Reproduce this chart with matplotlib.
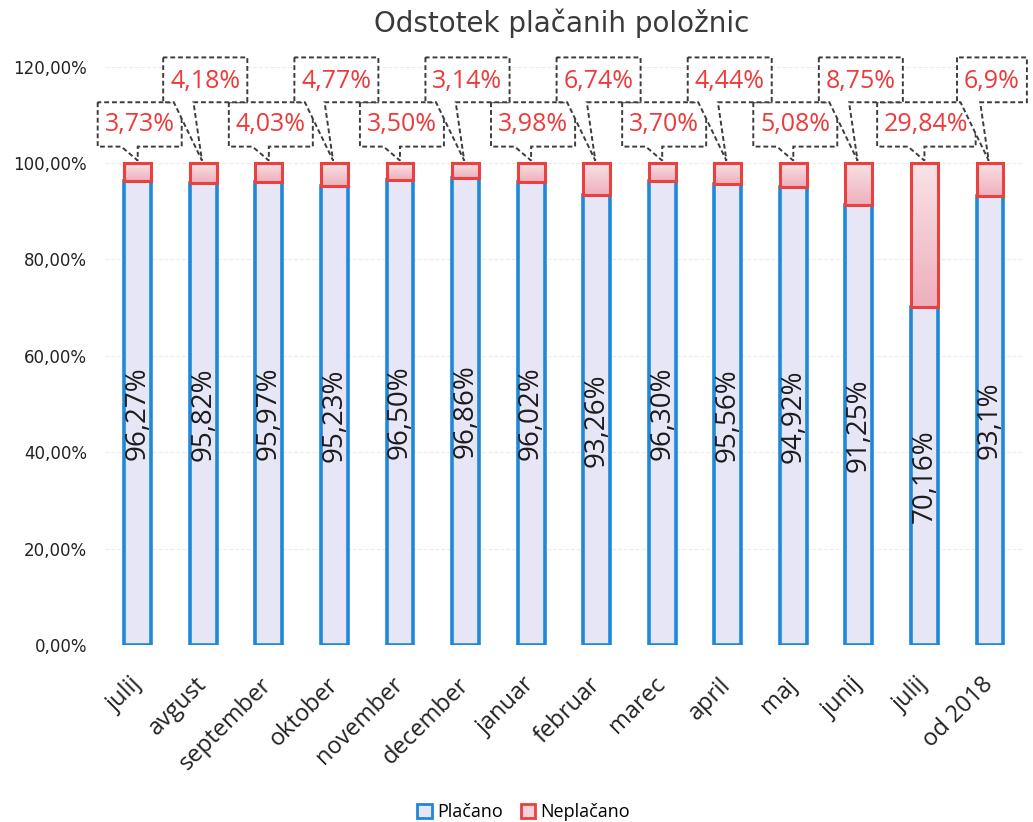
import numpy as np
import matplotlib
matplotlib.use('Agg')
import matplotlib.pyplot as plt
from matplotlib.patches import Polygon, Patch
from matplotlib.colors import LinearSegmentedColormap
from matplotlib.ticker import FuncFormatter

months = ['julij', 'avgust', 'september', 'oktober', 'november', 'december',
          'januar', 'februar', 'marec', 'april', 'maj', 'junij', 'julij', 'od 2018']
placano = [96.27, 95.82, 95.97, 95.23, 96.50, 96.86, 96.02, 93.26, 96.30,
           95.56, 94.92, 91.25, 70.16, 93.1]
neplacano = [3.73, 4.18, 4.03, 4.77, 3.50, 3.14, 3.98, 6.74, 3.70,
             4.44, 5.08, 8.75, 29.84, 6.9]
decimals = [2] * 13 + [1]


def pct(v, d):
    return f"{v:.{d}f}%".replace('.', ',')


blue_edge = '#1f88d8'
blue_fill = '#e6e6f6'
red_edge = '#e8413f'
red_fill = '#f5d3da'

fig = plt.figure(figsize=(10.33, 8.22), dpi=100)
ax = fig.add_axes([0.1016, 0.2153, 0.8885, 0.7037])

x = np.arange(len(months))
ax.bar(x, placano, width=0.41, color=blue_fill, edgecolor=blue_edge,
       linewidth=2.6, zorder=2)
red = ax.bar(x, neplacano, bottom=placano, width=0.41, color='none',
             edgecolor=red_edge, linewidth=2.2, zorder=3)

# pink gradient inside the unpaid segments
pink = LinearSegmentedColormap.from_list('pink', ['#eeb0bc', '#f9e2e6'])
grad = np.linspace(0, 1, 64).reshape(-1, 1)
for p in red:
    x0, y0 = p.get_xy()
    ax.imshow(grad, extent=[x0, x0 + p.get_width(), y0, y0 + p.get_height()],
              origin='lower', cmap=pink, aspect='auto', zorder=2.5,
              interpolation='bicubic')

ax.set_xlim(-0.5, len(months) - 0.5)
ax.set_ylim(0, 120)
ax.set_aspect('auto')

# values inside the paid bars
for i, v in enumerate(placano):
    ax.text(i, v / 2, pct(v, decimals[i]), rotation=90, ha='center',
            va='center', fontsize=20, family='Open Sans', color='#1c1c1c',
            zorder=4)

# callout labels for unpaid share
texts = []
for i, v in enumerate(neplacano):
    ty = 107.9 if i % 2 == 0 else 116.9
    t = ax.text(i + 0.03, ty, pct(v, decimals[i]), ha='center', va='center',
                fontsize=18, family='Open Sans', color='#ee3a3a', zorder=8,
                clip_on=False)
    texts.append(t)

fig.canvas.draw()
renderer = fig.canvas.get_renderer()
inv = ax.transData.inverted()
for i, t in enumerate(texts):
    bb = t.get_window_extent(renderer)
    bx0 = inv.transform((bb.x0 - 7, 0))[0]
    bx1 = inv.transform((bb.x1 + 7, 0))[0]
    if i % 2 == 0:
        yb, yt = 103.4, 112.6
        bl, br, tip = i - 0.25, i + 0.0, (i, 100.5)
        z = 5
    else:
        yb, yt = 112.6, 121.9
        bl, br, tip = i - 0.45, i - 0.15, (i - 0.02, 100.5)
        z = 6
    bl = max(bl, bx0 + 0.02)
    verts = [(bx0, yt), (bx0, yb), (bl, yb), tip, (br, yb), (bx1, yb), (bx1, yt)]
    ax.add_patch(Polygon(verts, closed=True, facecolor='white',
                         edgecolor='#3c3c3c', linewidth=1.4,
                         linestyle=(0, (2.5, 1.5)), zorder=z, clip_on=False))

# axes styling
for s in ax.spines.values():
    s.set_visible(False)
ax.set_yticks(range(0, 121, 20))
ax.yaxis.set_major_formatter(FuncFormatter(lambda v, _: f"{v:.2f}%".replace('.', ',')))
ax.tick_params(axis='y', length=0, pad=13, labelsize=12, labelcolor='#222222')
ax.yaxis.grid(True, color='#ececec', linewidth=0.8, linestyle='--')
ax.set_axisbelow(True)

ax.set_xticks(x)
ax.set_xticklabels(months, rotation=45, ha='right', va='center',
                   rotation_mode='anchor', fontsize=17, family='Open Sans',
                   color='#222222')
ax.tick_params(axis='x', length=0, pad=26)

fig.text(0.544, 0.972, 'Odstotek plačanih položnic', ha='center', va='center',
         fontsize=20, color='#3a3a3a')

handles = [Patch(facecolor=blue_fill, edgecolor=blue_edge, linewidth=2),
           Patch(facecolor=red_fill, edgecolor=red_edge, linewidth=2)]
fig.legend(handles, ['Plačano', 'Neplačano'], loc='center',
           bbox_to_anchor=(0.507, 1 - 812 / 822), ncol=2, frameon=False,
           prop={'family': 'Open Sans', 'size': 13}, handlelength=0.8,
           handleheight=0.8, columnspacing=1.0, handletextpad=0.3)

fig.savefig('out.png', dpi=100)
